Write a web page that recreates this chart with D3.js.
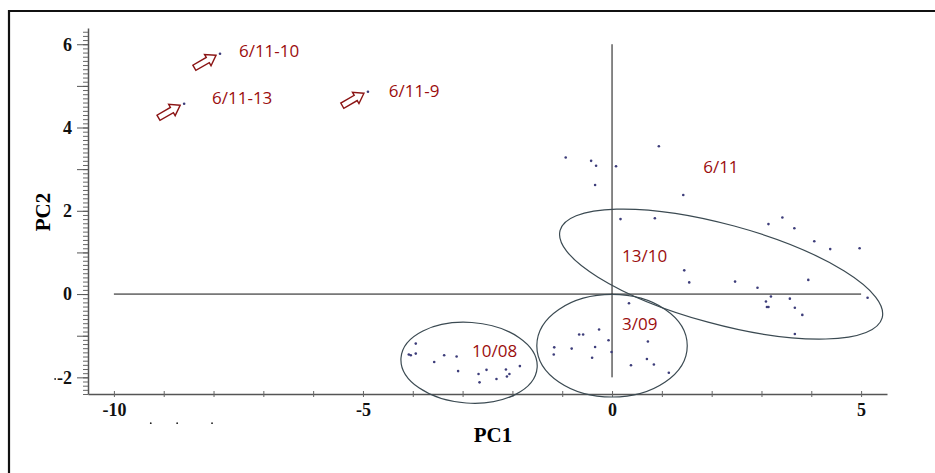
<!DOCTYPE html>
<html>
<head>
<meta charset="utf-8">
<script src="https://cdn.jsdelivr.net/npm/d3@7"></script>
<style>
  body { margin: 0; background: #fff; }
  svg { display: block; }
  .tick text { font-family: "Liberation Serif", "Times New Roman", serif; font-weight: bold; font-size: 18px; fill: #111; }
  .lbl { font-family: "Open Sans", sans-serif; font-size: 17px; fill: #9b0d0d; }
</style>
</head>
<body>
<svg width="935" height="473"></svg>
<script>
// PC scores
var pc1 = [
  -7.87, -8.59, -4.90,
  -0.93, -0.42, -0.32, 0.08, 0.94, -0.34, 1.43, 0.17, 0.86, 3.14, 3.42, 3.66, 4.06, 4.38, 4.97,
  1.45, 1.55, 2.47, 2.92, 3.94, 3.19, 3.57, 3.09, 3.11, 3.14, 3.67, 3.82, 5.13, 3.67,
  0.34, -0.26, -0.66, -0.58, -0.07, 0.72, -0.34, -0.81, -1.16, -0.01, -1.17, -0.40, 0.70, 0.38, 0.84, 1.14,
  -3.94, -4.08, -4.04, -3.94, -3.37, -3.57, -3.12, -1.85, -3.09, -2.68, -2.52, -2.13, -2.06, -2.11, -2.32, -2.66,
  -9.26, -8.73, -8.03, -11.18
];
var pc2 = [
  5.77, 4.57, 4.86,
  3.28, 3.20, 3.08, 3.07, 3.55, 2.62, 2.38, 1.80, 1.82, 1.68, 1.84, 1.58, 1.27, 1.08, 1.10,
  0.57, 0.28, 0.30, 0.15, 0.34, -0.06, -0.11, -0.18, -0.31, -0.31, -0.33, -0.50, -0.09, -0.96,
  -0.22, -0.85, -0.97, -0.97, -1.11, -1.14, -1.27, -1.31, -1.28, -1.39, -1.45, -1.53, -1.56, -1.71, -1.69, -1.89,
  -1.19, -1.45, -1.47, -1.43, -1.47, -1.63, -1.50, -1.73, -1.85, -1.92, -1.82, -1.81, -1.92, -1.98, -2.04, -2.12,
  -3.10, -3.10, -3.10, -2.04
];

// group labels: text, PC1, PC2 (left / baseline)
var labelText = ["6/11-10", "6/11-13", "6/11-9", "6/11", "13/10", "3/09", "10/08"];
var labelPC1  = [-7.49, -8.03, -4.48, 1.83, 0.20, 0.20, -2.81];
var labelPC2  = [5.70, 4.57, 4.74, 2.91, 0.77, -0.87, -1.51];

// arrows point at the first three samples
var arrowIndex = [0, 1, 2];

// grouping ellipses: centre (PC1, PC2), semi-axes in PC1 units, tilt in degrees
var ellCx   = [2.19, 0.00, -2.87];
var ellCy   = [0.48, -1.24, -1.65];
var ellA    = [3.35, 1.51, 1.37];
var ellB    = [1.00, 1.03, 0.81];
var ellTilt = [15.2, 0, 4];

var xTicks = d3.range(-10, 6);
var xLabels = [-10, -5, 0, 5];
var yMajor = d3.range(-2, 7);
var yMinor = d3.range(-24, 64).map(function(v) { return v / 10; });

var svg = d3.select("svg");

var x = d3.scaleLinear().domain([-10.52, 5.52]).range([88, 887]);
var y = d3.scaleLinear().domain([-2.4, 6.39]).range([394, 28]);

// frame
svg.append("path")
  .attr("d", "M9,473V11H935")
  .attr("fill", "none")
  .attr("stroke", "#111")
  .attr("stroke-width", 2.2);

// y axis: minor then major ticks
svg.append("g")
  .attr("transform", "translate(" + x.range()[0] + ",0)")
  .call(d3.axisLeft(y).tickValues(yMinor).tickSize(5).tickSizeOuter(0).tickFormat(""))
  .call(function(g) { g.select(".domain").attr("stroke", "#555").attr("stroke-width", 1.5); })
  .call(function(g) { g.selectAll(".tick line").attr("stroke", "#666"); });

svg.append("g")
  .attr("transform", "translate(" + x.range()[0] + ",0)")
  .call(d3.axisLeft(y).tickValues(yMajor).tickSize(11).tickSizeOuter(0).tickPadding(5)
    .tickFormat(function(d) { return d % 2 === 0 ? d : ""; }))
  .call(function(g) { g.select(".domain").remove(); })
  .call(function(g) { g.selectAll(".tick line").attr("stroke", "#555"); });

// x axis
svg.append("g")
  .attr("transform", "translate(0," + y.range()[0] + ")")
  .call(d3.axisBottom(x).tickValues(xTicks).tickSize(3).tickSizeOuter(0).tickPadding(6)
    .tickFormat(function(d) { return xLabels.indexOf(d) >= 0 ? d : ""; }))
  .call(function(g) { g.select(".domain").attr("stroke", "#555").attr("stroke-width", 1.5); })
  .call(function(g) { g.selectAll(".tick line").attr("y1", -3).attr("stroke", "#666"); });

// axis titles
svg.append("text")
  .attr("x", 493).attr("y", 442)
  .attr("text-anchor", "middle")
  .style("font-family", "'Liberation Serif', serif").style("font-weight", "bold").style("font-size", "21px")
  .text("PC1");

svg.append("text")
  .attr("transform", "translate(50,212) rotate(-90)")
  .attr("text-anchor", "middle")
  .style("font-family", "'Liberation Serif', serif").style("font-weight", "bold").style("font-size", "21px")
  .text("PC2");

// reference lines through the origin
svg.append("line")
  .attr("x1", x(-10)).attr("x2", x(5)).attr("y1", y(0)).attr("y2", y(0))
  .attr("stroke", "#111").attr("stroke-width", 1);
svg.append("line")
  .attr("x1", x(0)).attr("x2", x(0)).attr("y1", y(6)).attr("y2", y(-2))
  .attr("stroke", "#111").attr("stroke-width", 1);

// ellipses
var kx = x(1) - x(0);
svg.append("g").selectAll("ellipse")
  .data(d3.range(ellCx.length))
  .enter().append("ellipse")
    .attr("transform", function(i) { return "translate(" + x(ellCx[i]) + "," + y(ellCy[i]) + ") rotate(" + ellTilt[i] + ")"; })
    .attr("rx", function(i) { return ellA[i] * kx; })
    .attr("ry", function(i) { return ellB[i] * kx; })
    .attr("fill", "none")
    .attr("stroke", "#3b4a52")
    .attr("stroke-width", 1.2);

// points (the few strays outside the axes are tiny and black)
svg.append("g").selectAll("circle")
  .data(d3.range(pc1.length))
  .enter().append("circle")
    .attr("cx", function(i) { return x(pc1[i]); })
    .attr("cy", function(i) { return y(pc2[i]); })
    .attr("r", function(i) { return pc2[i] < -2.6 || pc1[i] < -10.6 ? 0.9 : 1.3; })
    .attr("fill", function(i) { return pc2[i] < -2.6 || pc1[i] < -10.6 ? "#222" : "#3d3d7a"; });

// hollow block arrows
var arrowShape = "M0,0L-9.5,-6.5L-9.5,-3L-25,-3L-25,3L-9.5,3L-9.5,6.5Z";
svg.append("g").selectAll("path")
  .data(arrowIndex)
  .enter().append("path")
    .attr("d", arrowShape)
    .attr("transform", function(i) { return "translate(" + (x(pc1[i]) - 4) + "," + (y(pc2[i]) + 1.5) + ") rotate(-30)"; })
    .attr("fill", "#fff")
    .attr("stroke", "#8b1414")
    .attr("stroke-width", 1.4)
    .attr("stroke-linejoin", "miter");

// labels
svg.append("g").selectAll("text")
  .data(d3.range(labelText.length))
  .enter().append("text")
    .attr("class", "lbl")
    .attr("x", function(i) { return x(labelPC1[i]); })
    .attr("y", function(i) { return y(labelPC2[i]); })
    .text(function(i) { return labelText[i]; });
</script>
</body>
</html>
